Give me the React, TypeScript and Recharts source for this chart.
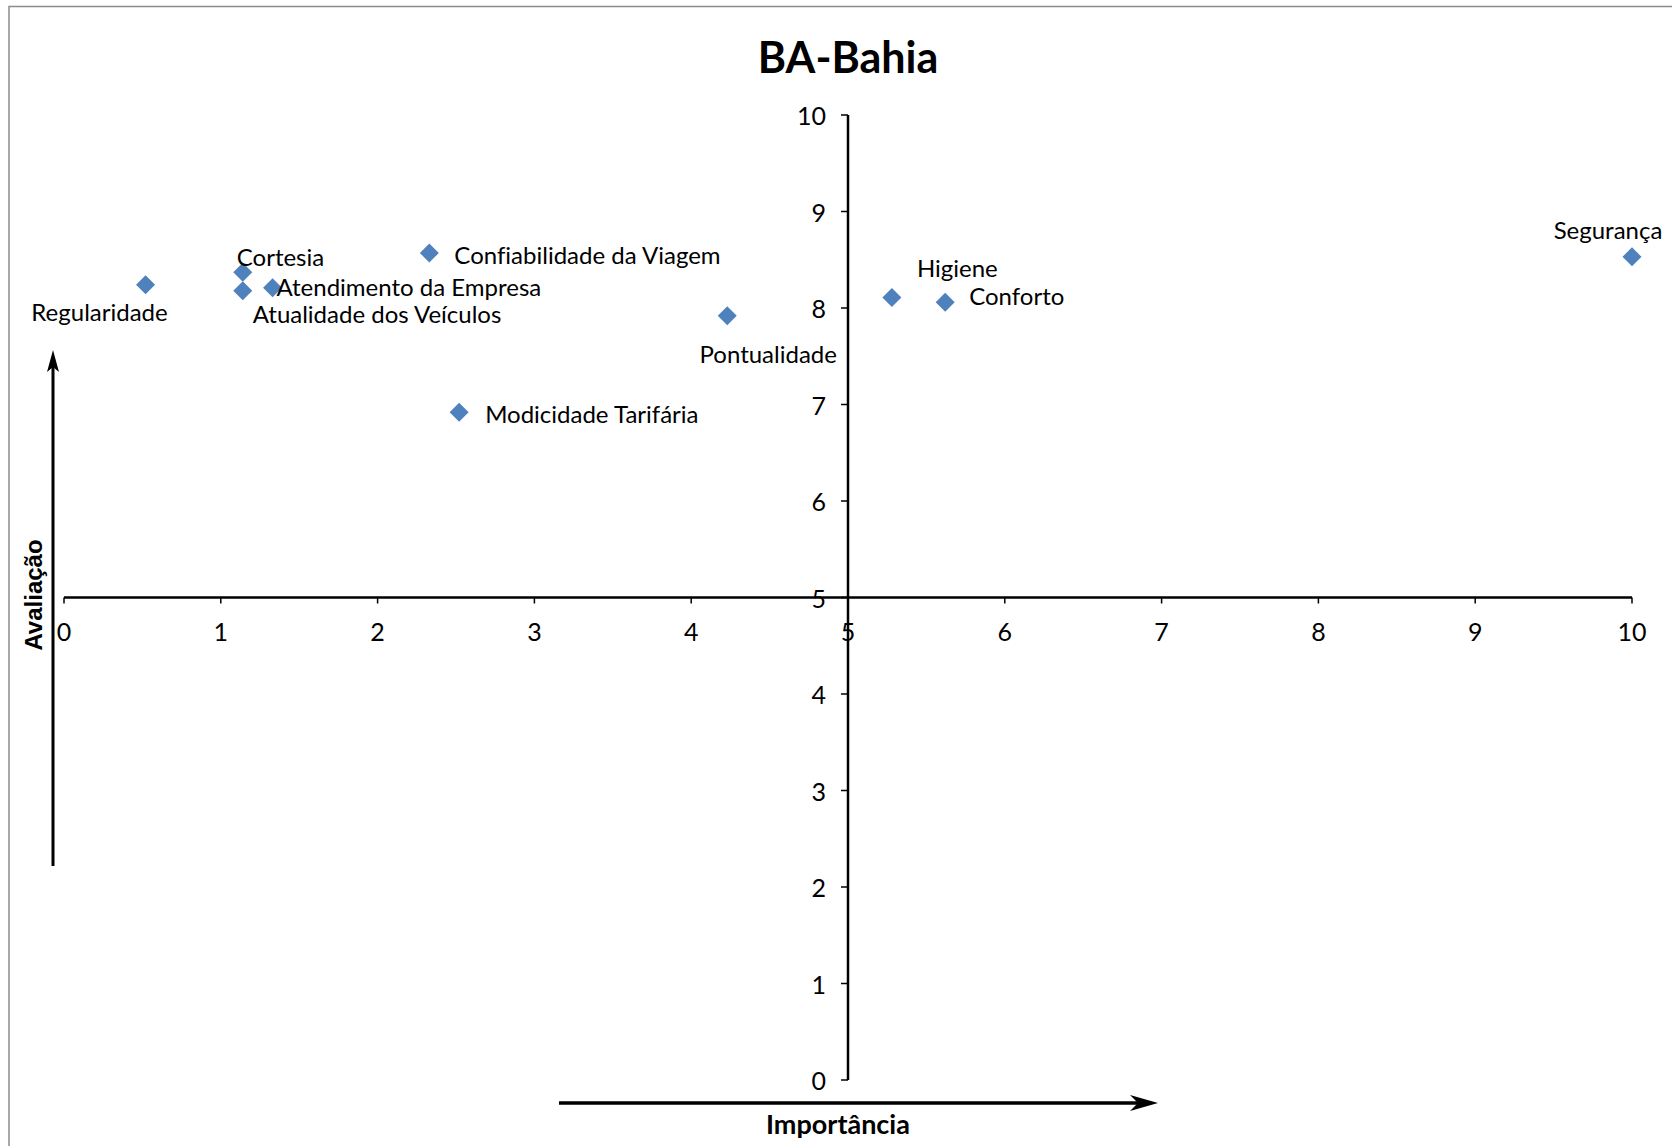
import React from 'react';
import { ScatterChart, Scatter, XAxis, YAxis, ReferenceLine, ReferenceDot } from 'recharts';

// atributos avaliados - BA-Bahia
const attributes = [
  'Regularidade',
  'Cortesia',
  'Atualidade dos Veículos',
  'Atendimento da Empresa',
  'Confiabilidade da Viagem',
  'Modicidade Tarifária',
  'Pontualidade',
  'Higiene',
  'Conforto',
  'Segurança',
];
const importance = [0.52, 1.14, 1.14, 1.33, 2.33, 2.52, 4.23, 5.28, 5.62, 10.0];
const evaluation = [8.24, 8.37, 8.18, 8.21, 8.57, 6.92, 7.92, 8.11, 8.06, 8.53];
const axisTicks = [0, 1, 2, 3, 4, 5, 6, 7, 8, 9, 10];

const data = attributes.map((name, i) => ({ name, x: importance[i], y: evaluation[i] }));

// where each label sits relative to its marker
const labelPlacement: Record<string, { dx: number; dy: number; anchor: 'start' | 'middle' | 'end' }> = {
  Regularidade: { dx: -46, dy: 27, anchor: 'middle' },
  Cortesia: { dx: -6, dy: -16, anchor: 'start' },
  'Atualidade dos Veículos': { dx: 10, dy: 23, anchor: 'start' },
  'Atendimento da Empresa': { dx: 4, dy: -1, anchor: 'start' },
  'Confiabilidade da Viagem': { dx: 25, dy: 2, anchor: 'start' },
  'Modicidade Tarifária': { dx: 26, dy: 1, anchor: 'start' },
  Pontualidade: { dx: 41, dy: 38, anchor: 'middle' },
  Higiene: { dx: 25, dy: -30, anchor: 'start' },
  Conforto: { dx: 24, dy: -7, anchor: 'start' },
  Segurança: { dx: -24, dy: -27, anchor: 'middle' },
};

const FONT = 'Lato, Carlito, Calibri, sans-serif';
const W = 1672;
const H = 1146;
const noLig = { fontVariantLigatures: 'none' as const };

function Marker(props: any) {
  const { cx, cy, payload } = props;
  const p = labelPlacement[payload.name];
  const r = 9.5;
  return (
    <g>
      <polygon
        points={`${cx},${cy - r} ${cx + r},${cy} ${cx},${cy + r} ${cx - r},${cy}`}
        fill="#4F81BD"
      />
      <text
        x={cx + p.dx}
        y={cy + p.dy}
        textAnchor={p.anchor}
        dominantBaseline="central"
        fontFamily={FONT}
        fontSize={24}
        fill="#000"
        style={noLig}
      >
        {payload.name}
      </text>
    </g>
  );
}

function XTick(props: any) {
  const { cx, cy, value } = props;
  return (
    <g>
      <line x1={cx} y1={cy} x2={cx} y2={cy + 6} stroke="#000" strokeWidth={1.5} />
      <text x={cx} y={cy + 33} textAnchor="middle" dominantBaseline="central" fontFamily={FONT} fontSize={25} fill="#000">
        {value}
      </text>
    </g>
  );
}

function YTick(props: any) {
  const { cx, cy, value } = props;
  return (
    <g>
      <line x1={cx - 7} y1={cy} x2={cx} y2={cy} stroke="#000" strokeWidth={1.5} />
      <text x={cx - 22} y={cy} textAnchor="end" dominantBaseline="central" fontFamily={FONT} fontSize={25} fill="#000">
        {value}
      </text>
    </g>
  );
}

export default function App() {
  return (
    <div style={{ position: 'absolute', left: 0, top: 0, width: W, height: H, background: '#fff', overflow: 'hidden' }}>
      <ScatterChart width={W} height={H} margin={{ top: 115, right: 40, bottom: 66, left: 64 }}>
        <XAxis type="number" dataKey="x" domain={[0, 10]} hide />
        <YAxis type="number" dataKey="y" domain={[0, 10]} hide />
        <ReferenceLine y={5} stroke="#000" strokeWidth={2.5} />
        <ReferenceLine x={5} stroke="#000" strokeWidth={2.5} />
        {axisTicks.map(t => (
          <ReferenceDot key={'x' + t} x={t} y={5} ifOverflow="visible" shape={(p: any) => <XTick {...p} value={t} />} />
        ))}
        {axisTicks.map(t => (
          <ReferenceDot key={'y' + t} x={5} y={t} ifOverflow="visible" shape={(p: any) => <YTick {...p} value={t} />} />
        ))}
        <Scatter data={data} shape={<Marker />} isAnimationActive={false} />
      </ScatterChart>

      <svg width={W} height={H} style={{ position: 'absolute', left: 0, top: 0, pointerEvents: 'none' }}>
        <rect x={9} y={6.5} width={W + 20} height={H + 20} fill="none" stroke="#8c8c8c" strokeWidth={1.5} />
        <text x={848} y={56} textAnchor="middle" dominantBaseline="central" fontFamily={FONT} fontWeight="bold" fontSize={43} fill="#000">
          BA-Bahia
        </text>
        {/* seta vertical */}
        <line x1={53} y1={866} x2={53} y2={362} stroke="#000" strokeWidth={3} />
        <polygon points="53,350 59,372 53,367 47,372" fill="#000" />
        <text
          x={33}
          y={595}
          transform="rotate(-90 33 595)"
          textAnchor="middle"
          dominantBaseline="central"
          fontFamily="'Liberation Sans', Arial, sans-serif"
          fontWeight="bold"
          fontSize={24}
          fill="#000"
        >
          Avaliação
        </text>
        {/* seta horizontal */}
        <line x1={559} y1={1103} x2={1140} y2={1103} stroke="#000" strokeWidth={3.5} />
        <polygon points="1158,1103 1130,1095 1138,1103 1130,1111" fill="#000" />
        <text x={838} y={1123} textAnchor="middle" dominantBaseline="central" fontFamily={FONT} fontWeight="bold" fontSize={27} fill="#000">
          Importância
        </text>
      </svg>
    </div>
  );
}
